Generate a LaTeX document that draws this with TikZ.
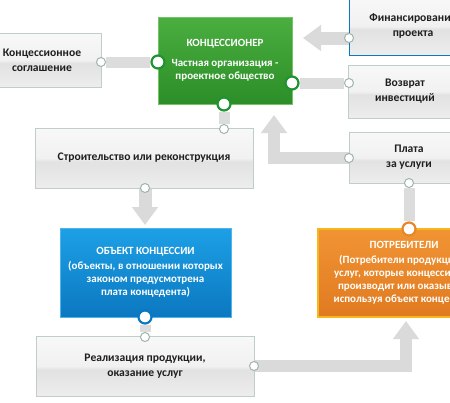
\documentclass[tikz,border=0pt]{standalone}
\usepackage{fontspec}
\setmainfont{Carlito}
\usetikzlibrary{arrows.meta}
\definecolor{txt}{HTML}{1E1E1E}
\definecolor{gbord}{HTML}{BFCEC7}
\definecolor{gA}{HTML}{F8F8F8}
\definecolor{gM}{HTML}{F1F1F1}
\definecolor{gB}{HTML}{E2E2E2}
\definecolor{gC}{HTML}{EDEDED}
\definecolor{band}{HTML}{DCDCDC}
\definecolor{arr}{HTML}{DADADA}
\definecolor{grT}{HTML}{4BAE40}
\definecolor{grB}{HTML}{2B8E27}
\definecolor{grL}{HTML}{74C465}
\definecolor{grC}{HTML}{1E9430}
\definecolor{blT}{HTML}{1DA0E6}
\definecolor{blB}{HTML}{0B78C0}
\definecolor{blL}{HTML}{4FB3EC}
\definecolor{blC}{HTML}{0A78C2}
\definecolor{orT}{HTML}{F19434}
\definecolor{orB}{HTML}{E07A20}
\definecolor{orL}{HTML}{F6B61C}
\definecolor{orC}{HTML}{E8862A}
\definecolor{smc}{HTML}{9FB4AB}
\pgfdeclareverticalshading{glass}{100bp}{color(0bp)=(gC); color(25bp)=(gC); color(47bp)=(gB); color(50bp)=(gM); color(75bp)=(gA); color(100bp)=(gA)}
\pgfdeclarelayer{bg}
\pgfdeclarelayer{fg}
\pgfsetlayers{bg,main,fg}
\begin{document}
\begin{tikzpicture}[x=1pt,y=-1pt,
  graybox/.style={draw=gbord, line width=0.8pt, shading=glass, inner sep=0pt, align=center, text=txt,
     font=\fontsize{11.6}{15}\selectfont\bfseries},
  colbox/.style={inner sep=0pt, align=center, text=white, font=\fontsize{11}{13}\selectfont\bfseries},
  greenbox/.style={colbox, draw=grL, line width=1pt, top color=grT, bottom color=grB},
  bluebox/.style={colbox, draw=blL, line width=1pt, top color=blT, bottom color=blB},
  orangebox/.style={colbox, draw=orL, line width=1.6pt, top color=orT, bottom color=orB},
  smallc/.style={circle, fill=white, draw=smc, line width=1pt, minimum size=9pt, inner sep=0pt},
  bigc/.style={circle, fill=white, line width=2.2pt, minimum size=13pt, inner sep=0pt},
  bandline/.style={draw=band, line width=11pt},
  bigarrow/.style={draw=arr, line width=13pt, line join=miter, -{Triangle[width=25pt,length=18pt]}}
]
\useasboundingbox (0,0) rectangle (450,402);
\clip (0,0) rectangle (450,402);

% boxes
\node[graybox, minimum width=118pt, minimum height=54pt] (sogl) at (42,60)
  {Концессионное\\соглашение};
\node[greenbox, minimum width=134pt, minimum height=87pt] (konc) at (225,60.5)
  {КОНЦЕССИОНЕР\\[7pt]Частная организация -\\проектное общество};
\node[graybox, draw=blC, minimum width=128pt, minimum height=58pt] (fin) at (413,26)
  {Финансирование\\проекта};
\node[graybox, minimum width=113pt, minimum height=53pt] (vozv) at (405,91.5)
  {Возврат\\инвестиций};
\node[graybox, minimum width=218pt, minimum height=60pt] (stroi) at (144,158)
  {Строительство или реконструкция};
\node[graybox, minimum width=120pt, minimum height=51pt] (plata) at (409,157.5)
  {Плата\\за услуги};
\node[bluebox, minimum width=171pt, minimum height=89pt] (obj) at (145.5,272.5)
  {ОБЪЕКТ КОНЦЕССИИ\\[2pt](объекты, в отношении которых\\законом предусмотрена\\плата концедента)};
\node[orangebox, minimum width=172pt, minimum height=88pt] (potr) at (404,273)
  {ПОТРЕБИТЕЛИ\\[2pt](Потребители продукции и\\услуг, которые концессионер\\производит или оказывает,\\используя объект концессии)};
\node[graybox, minimum width=218pt, minimum height=60pt] (real) at (145,366)
  {Реализация продукции,\\оказание услуг};

% circles
\begin{pgfonlayer}{fg}
\node[smallc] (c1) at (101,62) {};
\node[bigc, draw=grC] (g1) at (158,62) {};
\node[smallc] (c2) at (349,38) {};
\node[bigc, draw=grC] (g2) at (292,83) {};
\node[smallc] (c3) at (349,83) {};
\node[bigc, draw=grC] (g3) at (224,104) {};
\node[smallc] (c4) at (224,129) {};
\node[smallc] (c5) at (349,158) {};
\node[smallc] (c6) at (145,188) {};
\node[bigc, draw=blC] (b1) at (145,317) {};
\node[smallc] (c7) at (145,337) {};
\node[smallc] (c8) at (409,183) {};
\node[bigc, draw=orC] (o1) at (409,229) {};
\node[smallc] (c9) at (254,366) {};
\end{pgfonlayer}

\coordinate (tA) at (303,38);
\coordinate (tB) at (274,115);
\coordinate (tC) at (145,225);
\coordinate (tD) at (406,321);

% connectors
\begin{pgfonlayer}{bg}
\fill[white] (0,0) rectangle (450,402);
\draw[bandline] (c1) -- (g1);
\draw[bandline] (g2) -- (c3);
\draw[bandline] (g3) -- (c4);
\draw[bandline] (b1) -- (c7);
\draw[bandline] (c8) -- (o1);
\draw[bigarrow] (c2.center) -- (tA);
\draw[bigarrow, line width=12pt] (c5.center) -| (tB);
\draw[bigarrow] (c6.center) -- (tC);
\draw[bigarrow, line width=12pt] (c9.center) -| (tD);
\end{pgfonlayer}
\end{tikzpicture}
\end{document}
